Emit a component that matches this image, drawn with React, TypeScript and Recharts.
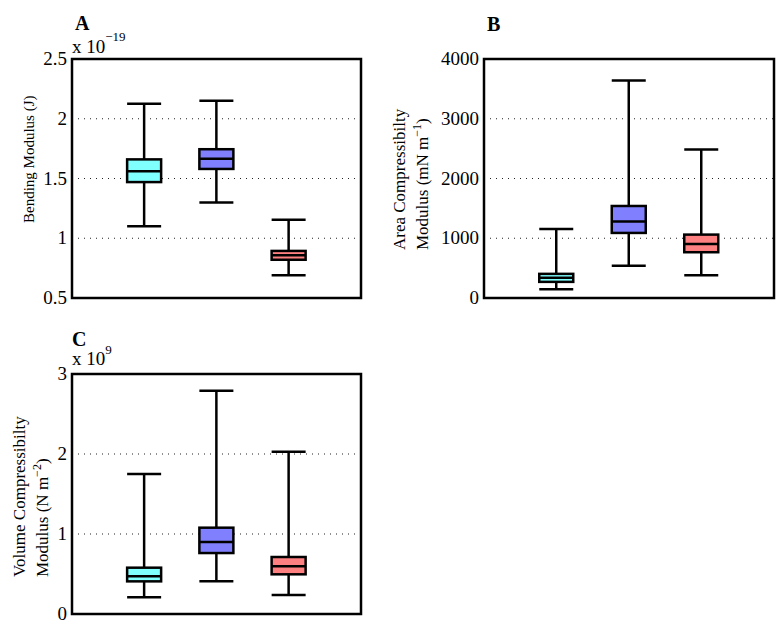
import React from 'react';
import { ComposedChart, Bar, XAxis, YAxis, CartesianGrid } from 'recharts';

// three groups, same order in every panel
const groups = ['1', '2', '3'];
const fills = ['#80ffff', '#8080ff', '#ff8080'];

// A: bending modulus (x 10^-19 J)
const bendLow = [1.10, 1.30, 0.69];
const bendQ1 = [1.47, 1.58, 0.82];
const bendMedian = [1.56, 1.665, 0.858];
const bendQ3 = [1.66, 1.745, 0.894];
const bendHigh = [2.125, 2.15, 1.155];
const bendTicks = [0.5, 1, 1.5, 2, 2.5];

// B: area compressibility modulus (mN/m)
const areaLow = [148, 538, 382];
const areaQ1 = [270, 1089, 766];
const areaMedian = [337, 1279, 905];
const areaQ3 = [404, 1540, 1061];
const areaHigh = [1156, 3641, 2487];
const areaTicks = [0, 1000, 2000, 3000, 4000];

// C: volume compressibility modulus (x 10^9 N/m^2)
const volLow = [0.208, 0.408, 0.2375];
const volQ1 = [0.408, 0.762, 0.496];
const volMedian = [0.471, 0.9, 0.596];
const volQ3 = [0.579, 1.079, 0.7125];
const volHigh = [1.75, 2.792, 2.029];
const volTicks = [0, 1, 2, 3];

type Row = { name: string; low: number; q1: number; median: number; q3: number; high: number; fill: string };

const buildRows = (low: number[], q1: number[], med: number[], q3: number[], high: number[]): Row[] =>
  groups.map((name, i) => ({ name, low: low[i], q1: q1[i], median: med[i], q3: q3[i], high: high[i], fill: fills[i] }));

const FONT = 'Liberation Serif';
const LW = 2.5;

type Margin = { top: number; right: number; bottom: number; left: number };
type Layout = { left: number; top: number; width: number; height: number; margin: Margin; axisWidth: number };

const layoutA: Layout = { left: 0, top: 0, width: 370, height: 310, margin: { top: 59, right: 9, bottom: 12, left: 0 }, axisWidth: 72 };
const layoutB: Layout = { left: 400, top: 0, width: 384, height: 310, margin: { top: 59, right: 10, bottom: 12, left: 0 }, axisWidth: 84 };
const layoutC: Layout = { left: 0, top: 320, width: 370, height: 310, margin: { top: 54, right: 9, bottom: 16, left: 0 }, axisWidth: 72 };

const plotRect = (l: Layout) => ({
  x: l.left + l.margin.left + l.axisWidth,
  y: l.top + l.margin.top,
  w: l.width - l.margin.left - l.margin.right - l.axisWidth,
  h: l.height - l.margin.top - l.margin.bottom,
});

// bar covers [low, high]; the rest is placed on the same linear scale
function BoxShape(props: any) {
  const { x, y, width, height, payload } = props;
  const top = Math.min(y, y + height);
  const bottom = Math.max(y, y + height);
  const span = payload.high - payload.low;
  const py = (v: number) => bottom - ((v - payload.low) / span) * (bottom - top);
  const cx = x + width / 2;
  const half = width / 2;
  const yq1 = py(payload.q1);
  const yq3 = py(payload.q3);
  const ym = py(payload.median);
  return (
    <g>
      <line x1={cx} x2={cx} y1={top} y2={bottom} stroke="#000" strokeWidth={LW} />
      <line x1={cx - half} x2={cx + half} y1={top} y2={top} stroke="#000" strokeWidth={LW} />
      <line x1={cx - half} x2={cx + half} y1={bottom} y2={bottom} stroke="#000" strokeWidth={LW} />
      <rect x={cx - half} y={yq3} width={width} height={yq1 - yq3} fill={payload.fill} stroke="#000" strokeWidth={LW} />
      <line x1={cx - half} x2={cx + half} y1={ym} y2={ym} stroke="#000" strokeWidth={LW} />
    </g>
  );
}

function TickLabel(props: any) {
  const { x, y, payload } = props;
  return (
    <text x={x} y={y} dy={6} textAnchor="end" fontFamily={FONT} fontSize={19} fill="#000">
      {payload.value}
    </text>
  );
}

function BoxPanel({ rows, domain, ticks, layout }: {
  rows: Row[]; domain: [number, number]; ticks: number[]; layout: Layout;
}) {
  const { width, height, margin, axisWidth } = layout;
  const pad = plotRect(layout).w / 8;
  return (
    <div style={{ position: 'absolute', left: layout.left, top: layout.top }}>
      <ComposedChart width={width} height={height} data={rows} margin={margin}>
        <CartesianGrid vertical={false} stroke="#222" strokeDasharray="1 5" />
        <XAxis dataKey="name" type="category" hide padding={{ left: pad, right: pad }} />
        <YAxis type="number" domain={domain} ticks={ticks} width={axisWidth} interval={0}
          axisLine={false} tickLine={false} tickSize={0} tickMargin={5} tick={<TickLabel />} />
        <Bar dataKey={(d: Row) => [d.low, d.high]} barSize={34} isAnimationActive={false}
          shape={(p: any) => <BoxShape {...p} />} />
      </ComposedChart>
    </div>
  );
}

export default function App() {
  const bendRows = buildRows(bendLow, bendQ1, bendMedian, bendQ3, bendHigh);
  const areaRows = buildRows(areaLow, areaQ1, areaMedian, areaQ3, areaHigh);
  const volRows = buildRows(volLow, volQ1, volMedian, volQ3, volHigh);

  return (
    <div style={{ position: 'absolute', left: 0, top: 0, width: 784, height: 628, background: '#fff' }}>
      <BoxPanel rows={bendRows} domain={[0.5, 2.5]} ticks={bendTicks} layout={layoutA} />
      <BoxPanel rows={areaRows} domain={[0, 4000]} ticks={areaTicks} layout={layoutB} />
      <BoxPanel rows={volRows} domain={[0, 3]} ticks={volTicks} layout={layoutC} />

      <svg width={784} height={628} style={{ position: 'absolute', left: 0, top: 0, pointerEvents: 'none' }}
        fontFamily={FONT} fill="#000">
        {[layoutA, layoutB, layoutC].map((l, i) => {
          const r = plotRect(l);
          return <rect key={i} x={r.x} y={r.y} width={r.w} height={r.h} fill="none" stroke="#000" strokeWidth={LW} />;
        })}

        <text x={75} y={30} fontSize={20} fontWeight="bold">A</text>
        <text x={487} y={31} fontSize={20} fontWeight="bold">B</text>
        <text x={72} y={346} fontSize={20} fontWeight="bold">C</text>

        <text x={72} y={53} fontSize={19}>x 10<tspan dy={-12} fontSize={13}>−19</tspan></text>
        <text x={72} y={365} fontSize={19}>x 10<tspan dy={-11} fontSize={13}>9</tspan></text>

        <text transform="translate(34,223) rotate(-90)" fontSize={15}>Bending Modulus (J)</text>

        <text transform="translate(405,250) rotate(-90)" fontSize={17}>Area Compressibilty</text>
        <text transform="translate(428,250) rotate(-90)" fontSize={17}>
          Modulus (mN m<tspan dy={-7} fontSize={12}>−1</tspan><tspan dy={7}>)</tspan>
        </text>

        <text transform="translate(25,577) rotate(-90)" fontSize={17}>Volume Compressibilty</text>
        <text transform="translate(48,577) rotate(-90)" fontSize={17}>
          Modulus (N m<tspan dy={-7} fontSize={12}>−2</tspan><tspan dy={7}>)</tspan>
        </text>
      </svg>
    </div>
  );
}
